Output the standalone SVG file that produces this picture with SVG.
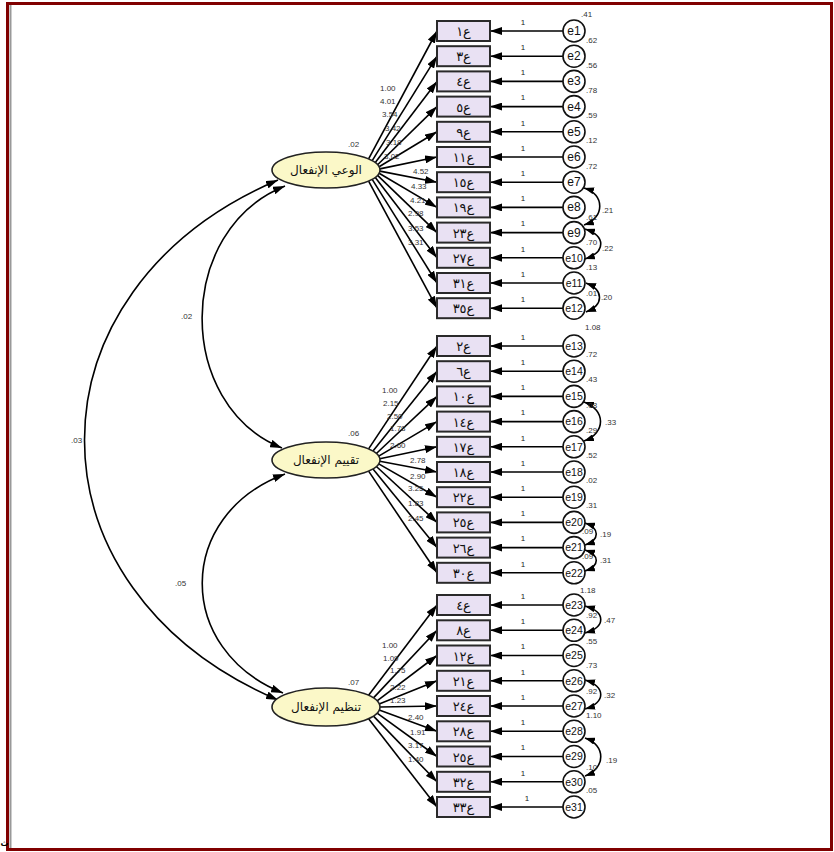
<svg xmlns="http://www.w3.org/2000/svg" width="834" height="852" viewBox="0 0 834 852">
<style>
.box rect{fill:#e9e1f3;stroke:#2a2a2a;stroke-width:2}
.btxt{font-family:"DejaVu Sans",sans-serif;font-size:13px;text-anchor:middle;fill:#111}
.err circle{fill:#fff;stroke:#111;stroke-width:1.6}
.etxt{font-family:"Liberation Sans",Arial,sans-serif;font-size:12px;text-anchor:middle;fill:#111}
.e2d{font-size:10.5px}
.lv ellipse{fill:#fbf8c8;stroke:#222;stroke-width:1.6}
.ltxt{font-family:"DejaVu Sans",sans-serif;font-size:12px;text-anchor:middle;fill:#111}
.num{font-family:"Liberation Sans",Arial,sans-serif;font-size:8px;fill:#333}
.conn line,.conn path{stroke:#000;stroke-width:1.6;fill:none}
.one{font-family:"Liberation Sans",Arial,sans-serif;font-size:8px;fill:#222;text-anchor:middle}
</style>
<defs>
<marker id="ah" viewBox="0 0 12 8" refX="12" refY="4" markerWidth="12" markerHeight="8" markerUnits="userSpaceOnUse" orient="auto-start-reverse"><path d="M0,0 L12,4 L0,8 z" fill="#000"/></marker>
<marker id="ah2" viewBox="0 0 10 7" refX="10" refY="3.5" markerWidth="10" markerHeight="7" markerUnits="userSpaceOnUse" orient="auto-start-reverse"><path d="M0,0 L10,3.5 L0,7 z" fill="#000"/></marker>
</defs>
<rect x="0" y="0" width="834" height="852" fill="#fff"/>
<rect x="7.5" y="3.5" width="824" height="846" fill="none" stroke="#800000" stroke-width="3"/>
<line x1="10.5" y1="5" x2="10.5" y2="848" stroke="#999" stroke-width="2"/>
<text x="0.5" y="846" font-family="DejaVu Sans,sans-serif" font-size="8" font-weight="bold">ث</text>

<g id="connectors" class="conn">
<path d="M278,180 C20,290 20,590 278,700" marker-start="url(#ah)" marker-end="url(#ah)"/>
<path d="M285,186 C175,230 175,405 282,448" marker-start="url(#ah)" marker-end="url(#ah)"/>
<path d="M285,474 C175,515 175,650 283,693" marker-start="url(#ah)" marker-end="url(#ah)"/>
<line x1="368.6" y1="158.9" x2="437" y2="31" marker-end="url(#ah)"/>
<line x1="372.2" y1="160.7" x2="437" y2="56.2" marker-end="url(#ah)"/>
<line x1="375.3" y1="162.6" x2="437" y2="81.4" marker-end="url(#ah)"/>
<line x1="377.6" y1="164.7" x2="437" y2="106.6" marker-end="url(#ah)"/>
<line x1="379.1" y1="166.8" x2="437" y2="131.8" marker-end="url(#ah)"/>
<line x1="379.9" y1="168.9" x2="437" y2="157" marker-end="url(#ah)"/>
<line x1="379.9" y1="171.1" x2="437" y2="182.2" marker-end="url(#ah)"/>
<line x1="379.1" y1="173.2" x2="437" y2="207.4" marker-end="url(#ah)"/>
<line x1="377.6" y1="175.3" x2="437" y2="232.6" marker-end="url(#ah)"/>
<line x1="375.3" y1="177.4" x2="437" y2="257.8" marker-end="url(#ah)"/>
<line x1="372.2" y1="179.3" x2="437" y2="283" marker-end="url(#ah)"/>
<line x1="368.6" y1="181.1" x2="437" y2="308.2" marker-end="url(#ah)"/>
<line x1="368.6" y1="448.9" x2="437" y2="346" marker-end="url(#ah)"/>
<line x1="373" y1="451.1" x2="437" y2="371.2" marker-end="url(#ah)"/>
<line x1="376.4" y1="453.5" x2="437" y2="396.4" marker-end="url(#ah)"/>
<line x1="378.7" y1="456.1" x2="437" y2="421.6" marker-end="url(#ah)"/>
<line x1="379.8" y1="458.7" x2="437" y2="446.8" marker-end="url(#ah)"/>
<line x1="379.8" y1="461.3" x2="437" y2="472" marker-end="url(#ah)"/>
<line x1="378.7" y1="463.9" x2="437" y2="497.2" marker-end="url(#ah)"/>
<line x1="376.4" y1="466.5" x2="437" y2="522.4" marker-end="url(#ah)"/>
<line x1="373" y1="468.9" x2="437" y2="547.6" marker-end="url(#ah)"/>
<line x1="368.6" y1="471.1" x2="437" y2="572.8" marker-end="url(#ah)"/>
<line x1="368.6" y1="695.3" x2="437" y2="605" marker-end="url(#ah)"/>
<line x1="373.5" y1="697.9" x2="437" y2="630.3" marker-end="url(#ah)"/>
<line x1="377.1" y1="700.8" x2="437" y2="655.5" marker-end="url(#ah)"/>
<line x1="379.2" y1="703.9" x2="437" y2="680.8" marker-end="url(#ah)"/>
<line x1="380" y1="707" x2="437" y2="706" marker-end="url(#ah)"/>
<line x1="379.2" y1="710.1" x2="437" y2="731.3" marker-end="url(#ah)"/>
<line x1="377.1" y1="713.2" x2="437" y2="756.5" marker-end="url(#ah)"/>
<line x1="373.5" y1="716.1" x2="437" y2="781.8" marker-end="url(#ah)"/>
<line x1="368.6" y1="718.7" x2="437" y2="807" marker-end="url(#ah)"/>
<line x1="563" y1="31" x2="490" y2="31" marker-end="url(#ah)"/>
<line x1="563" y1="56.2" x2="490" y2="56.2" marker-end="url(#ah)"/>
<line x1="563" y1="81.4" x2="490" y2="81.4" marker-end="url(#ah)"/>
<line x1="563" y1="106.6" x2="490" y2="106.6" marker-end="url(#ah)"/>
<line x1="563" y1="131.8" x2="490" y2="131.8" marker-end="url(#ah)"/>
<line x1="563" y1="157" x2="490" y2="157" marker-end="url(#ah)"/>
<line x1="563" y1="182.2" x2="490" y2="182.2" marker-end="url(#ah)"/>
<line x1="563" y1="207.4" x2="490" y2="207.4" marker-end="url(#ah)"/>
<line x1="563" y1="232.6" x2="490" y2="232.6" marker-end="url(#ah)"/>
<line x1="563" y1="257.8" x2="490" y2="257.8" marker-end="url(#ah)"/>
<line x1="563" y1="283" x2="490" y2="283" marker-end="url(#ah)"/>
<line x1="563" y1="308.2" x2="490" y2="308.2" marker-end="url(#ah)"/>
<line x1="563" y1="346" x2="490" y2="346" marker-end="url(#ah)"/>
<line x1="563" y1="371.2" x2="490" y2="371.2" marker-end="url(#ah)"/>
<line x1="563" y1="396.4" x2="490" y2="396.4" marker-end="url(#ah)"/>
<line x1="563" y1="421.6" x2="490" y2="421.6" marker-end="url(#ah)"/>
<line x1="563" y1="446.8" x2="490" y2="446.8" marker-end="url(#ah)"/>
<line x1="563" y1="472" x2="490" y2="472" marker-end="url(#ah)"/>
<line x1="563" y1="497.2" x2="490" y2="497.2" marker-end="url(#ah)"/>
<line x1="563" y1="522.4" x2="490" y2="522.4" marker-end="url(#ah)"/>
<line x1="563" y1="547.6" x2="490" y2="547.6" marker-end="url(#ah)"/>
<line x1="563" y1="572.8" x2="490" y2="572.8" marker-end="url(#ah)"/>
<line x1="563" y1="605" x2="490" y2="605" marker-end="url(#ah)"/>
<line x1="563" y1="630.3" x2="490" y2="630.3" marker-end="url(#ah)"/>
<line x1="563" y1="655.5" x2="490" y2="655.5" marker-end="url(#ah)"/>
<line x1="563" y1="680.8" x2="490" y2="680.8" marker-end="url(#ah)"/>
<line x1="563" y1="706" x2="490" y2="706" marker-end="url(#ah)"/>
<line x1="563" y1="731.3" x2="490" y2="731.3" marker-end="url(#ah)"/>
<line x1="563" y1="756.5" x2="490" y2="756.5" marker-end="url(#ah)"/>
<line x1="563" y1="781.8" x2="490" y2="781.8" marker-end="url(#ah)"/>
<line x1="563" y1="807" x2="490" y2="807" marker-end="url(#ah)"/>
<path d="M584,188 C605,194 605,218 584,225" marker-start="url(#ah2)" marker-end="url(#ah2)"/>
<path d="M585,229 C606,236 606,252 585,259" marker-start="url(#ah2)" marker-end="url(#ah2)"/>
<path d="M586,283 C604,290 604,305 586,312" marker-start="url(#ah2)" marker-end="url(#ah2)"/>
<path d="M584,402 C606,410 606,433 584,441" marker-start="url(#ah2)" marker-end="url(#ah2)"/>
<path d="M585,523 C600,528 600,540 585,545" marker-start="url(#ah2)" marker-end="url(#ah2)"/>
<path d="M585,550 C600,555 600,566 585,571" marker-start="url(#ah2)" marker-end="url(#ah2)"/>
<path d="M585,606 C606,612 606,627 585,633" marker-start="url(#ah2)" marker-end="url(#ah2)"/>
<path d="M585,680 C606,686 606,703 585,709" marker-start="url(#ah2)" marker-end="url(#ah2)"/>
<path d="M585,738 C606,745 606,768 585,776" marker-start="url(#ah2)" marker-end="url(#ah2)"/>
</g>

<g id="labels">
<text class="num" x="71" y="443">.03</text>
<text class="num" x="181" y="319">.02</text>
<text class="num" x="175" y="586">.05</text>
<text class="num" x="348" y="147">.02</text>
<text class="num" x="348" y="436">.06</text>
<text class="num" x="348" y="685">.07</text>
<text class="num" x="380" y="91">1.00</text>
<text class="num" x="380" y="104">4.01</text>
<text class="num" x="382" y="117">3.54</text>
<text class="num" x="385" y="131">3.42</text>
<text class="num" x="386" y="145">3.18</text>
<text class="num" x="384" y="159">3.02</text>
<text class="num" x="413" y="174">4.52</text>
<text class="num" x="411" y="189">4.33</text>
<text class="num" x="410" y="203">4.21</text>
<text class="num" x="408" y="216">2.98</text>
<text class="num" x="408" y="231">3.53</text>
<text class="num" x="408" y="245">3.31</text>
<text class="num" x="382" y="393">1.00</text>
<text class="num" x="383" y="406">2.15</text>
<text class="num" x="387" y="419">2.50</text>
<text class="num" x="390" y="431">1.78</text>
<text class="num" x="390" y="448">2.60</text>
<text class="num" x="410" y="463">2.78</text>
<text class="num" x="410" y="479">2.90</text>
<text class="num" x="408" y="491">3.25</text>
<text class="num" x="408" y="506">1.83</text>
<text class="num" x="408" y="521">2.45</text>
<text class="num" x="382" y="648">1.00</text>
<text class="num" x="383" y="661">1.09</text>
<text class="num" x="390" y="673">1.75</text>
<text class="num" x="390" y="690">2.22</text>
<text class="num" x="390" y="703">1.23</text>
<text class="num" x="408" y="720">2.40</text>
<text class="num" x="410" y="735">1.91</text>
<text class="num" x="408" y="748">3.17</text>
<text class="num" x="408" y="762">1.40</text>
<text class="num" x="602" y="213">.21</text>
<text class="num" x="602" y="251">.22</text>
<text class="num" x="601" y="300">.20</text>
<text class="num" x="605" y="425">.33</text>
<text class="num" x="600" y="537">.19</text>
<text class="num" x="600" y="563">.31</text>
<text class="num" x="604" y="623">.47</text>
<text class="num" x="604" y="698">.32</text>
<text class="num" x="606" y="763">.19</text>
<text class="num" x="581" y="17">.41</text>
<text class="num" x="586" y="43">.62</text>
<text class="num" x="586" y="68">.56</text>
<text class="num" x="586" y="93">.78</text>
<text class="num" x="586" y="118">.59</text>
<text class="num" x="586" y="143">.12</text>
<text class="num" x="586" y="169">.72</text>
<text class="num" x="586" y="220">.61</text>
<text class="num" x="586" y="245">.70</text>
<text class="num" x="586" y="270">.13</text>
<text class="num" x="586" y="296">.01</text>
<text class="num" x="585" y="330">1.08</text>
<text class="num" x="586" y="357">.72</text>
<text class="num" x="586" y="382">.43</text>
<text class="num" x="586" y="408">.08</text>
<text class="num" x="586" y="433">.29</text>
<text class="num" x="586" y="458">.52</text>
<text class="num" x="586" y="483">.02</text>
<text class="num" x="586" y="508">.31</text>
<text class="num" x="582" y="534">.09</text>
<text class="num" x="582" y="559">.09</text>
<text class="num" x="580" y="593">1.18</text>
<text class="num" x="586" y="618">.92</text>
<text class="num" x="586" y="644">.55</text>
<text class="num" x="586" y="668">.73</text>
<text class="num" x="586" y="694">.92</text>
<text class="num" x="586" y="718">1.10</text>
<text class="num" x="586" y="770">.10</text>
<text class="num" x="586" y="793">.05</text>
<text class="one" x="523" y="25">1</text>
<text class="one" x="523" y="50">1</text>
<text class="one" x="523" y="75">1</text>
<text class="one" x="523" y="100">1</text>
<text class="one" x="523" y="126">1</text>
<text class="one" x="523" y="151">1</text>
<text class="one" x="523" y="176">1</text>
<text class="one" x="523" y="201">1</text>
<text class="one" x="523" y="226">1</text>
<text class="one" x="523" y="252">1</text>
<text class="one" x="523" y="277">1</text>
<text class="one" x="523" y="302">1</text>
<text class="one" x="523" y="340">1</text>
<text class="one" x="523" y="365">1</text>
<text class="one" x="523" y="390">1</text>
<text class="one" x="523" y="415">1</text>
<text class="one" x="523" y="441">1</text>
<text class="one" x="523" y="466">1</text>
<text class="one" x="523" y="491">1</text>
<text class="one" x="523" y="516">1</text>
<text class="one" x="523" y="541">1</text>
<text class="one" x="523" y="567">1</text>
<text class="one" x="523" y="599">1</text>
<text class="one" x="523" y="624">1</text>
<text class="one" x="523" y="649">1</text>
<text class="one" x="523" y="675">1</text>
<text class="one" x="523" y="700">1</text>
<text class="one" x="523" y="725">1</text>
<text class="one" x="523" y="750">1</text>
<text class="one" x="523" y="776">1</text>
<text class="one" x="527" y="801">1</text>
</g>

<g id="f1" class="lv"><ellipse cx="326" cy="170" rx="54" ry="18"/><text class="ltxt" x="326" y="174">الوعي الإنفعال</text></g>
<g id="f2" class="lv"><ellipse cx="326" cy="460" rx="54" ry="18"/><text class="ltxt" x="326" y="464">تقييم الإنفعال</text></g>
<g id="f3" class="lv"><ellipse cx="326" cy="707" rx="54" ry="19"/><text class="ltxt" x="326" y="711">تنظيم الإنفعال</text></g>

<g id="b1" class="box"><rect x="437" y="21" width="53" height="20"/><text class="btxt" x="463.5" y="36">ع١</text></g>
<g id="b3" class="box"><rect x="437" y="46.2" width="53" height="20"/><text class="btxt" x="463.5" y="61.2">ع٣</text></g>
<g id="b4" class="box"><rect x="437" y="71.4" width="53" height="20"/><text class="btxt" x="463.5" y="86.4">ع٤</text></g>
<g id="b5" class="box"><rect x="437" y="96.6" width="53" height="20"/><text class="btxt" x="463.5" y="111.6">ع٥</text></g>
<g id="b9" class="box"><rect x="437" y="121.8" width="53" height="20"/><text class="btxt" x="463.5" y="136.8">ع٩</text></g>
<g id="b11" class="box"><rect x="437" y="147" width="53" height="20"/><text class="btxt" x="463.5" y="162">ع١١</text></g>
<g id="b15" class="box"><rect x="437" y="172.2" width="53" height="20"/><text class="btxt" x="463.5" y="187.2">ع١٥</text></g>
<g id="b19" class="box"><rect x="437" y="197.4" width="53" height="20"/><text class="btxt" x="463.5" y="212.4">ع١٩</text></g>
<g id="b23" class="box"><rect x="437" y="222.6" width="53" height="20"/><text class="btxt" x="463.5" y="237.6">ع٢٣</text></g>
<g id="b27" class="box"><rect x="437" y="247.8" width="53" height="20"/><text class="btxt" x="463.5" y="262.8">ع٢٧</text></g>
<g id="b31" class="box"><rect x="437" y="273" width="53" height="20"/><text class="btxt" x="463.5" y="288">ع٣١</text></g>
<g id="b35" class="box"><rect x="437" y="298.2" width="53" height="20"/><text class="btxt" x="463.5" y="313.2">ع٣٥</text></g>

<g id="b2" class="box"><rect x="437" y="336" width="53" height="20"/><text class="btxt" x="463.5" y="351">ع٢</text></g>
<g id="b6" class="box"><rect x="437" y="361.2" width="53" height="20"/><text class="btxt" x="463.5" y="376.2">ع٦</text></g>
<g id="b10" class="box"><rect x="437" y="386.4" width="53" height="20"/><text class="btxt" x="463.5" y="401.4">ع١٠</text></g>
<g id="b14" class="box"><rect x="437" y="411.6" width="53" height="20"/><text class="btxt" x="463.5" y="426.6">ع١٤</text></g>
<g id="b17" class="box"><rect x="437" y="436.8" width="53" height="20"/><text class="btxt" x="463.5" y="451.8">ع١٧</text></g>
<g id="b18" class="box"><rect x="437" y="462" width="53" height="20"/><text class="btxt" x="463.5" y="477">ع١٨</text></g>
<g id="b22" class="box"><rect x="437" y="487.2" width="53" height="20"/><text class="btxt" x="463.5" y="502.2">ع٢٢</text></g>
<g id="b25" class="box"><rect x="437" y="512.4" width="53" height="20"/><text class="btxt" x="463.5" y="527.4">ع٢٥</text></g>
<g id="b26" class="box"><rect x="437" y="537.6" width="53" height="20"/><text class="btxt" x="463.5" y="552.6">ع٢٦</text></g>
<g id="b30" class="box"><rect x="437" y="562.8" width="53" height="20"/><text class="btxt" x="463.5" y="577.8">ع٣٠</text></g>

<g id="c4" class="box"><rect x="437" y="595" width="53" height="20"/><text class="btxt" x="463.5" y="610">ع٤</text></g>
<g id="c8" class="box"><rect x="437" y="620.3" width="53" height="20"/><text class="btxt" x="463.5" y="635.3">ع٨</text></g>
<g id="c12" class="box"><rect x="437" y="645.5" width="53" height="20"/><text class="btxt" x="463.5" y="660.5">ع١٢</text></g>
<g id="c21" class="box"><rect x="437" y="670.8" width="53" height="20"/><text class="btxt" x="463.5" y="685.8">ع٢١</text></g>
<g id="c24" class="box"><rect x="437" y="696" width="53" height="20"/><text class="btxt" x="463.5" y="711">ع٢٤</text></g>
<g id="c28" class="box"><rect x="437" y="721.3" width="53" height="20"/><text class="btxt" x="463.5" y="736.3">ع٢٨</text></g>
<g id="c25" class="box"><rect x="437" y="746.5" width="53" height="20"/><text class="btxt" x="463.5" y="761.5">ع٢٥</text></g>
<g id="c32" class="box"><rect x="437" y="771.8" width="53" height="20"/><text class="btxt" x="463.5" y="786.8">ع٣٢</text></g>
<g id="c33" class="box"><rect x="437" y="797" width="53" height="20"/><text class="btxt" x="463.5" y="812">ع٣٣</text></g>

<g id="e1" class="err"><circle cx="574" cy="31" r="11"/><text class="etxt" x="574" y="35">e1</text></g>
<g id="e2" class="err"><circle cx="574" cy="56.2" r="11"/><text class="etxt" x="574" y="60.2">e2</text></g>
<g id="e3" class="err"><circle cx="574" cy="81.4" r="11"/><text class="etxt" x="574" y="85.4">e3</text></g>
<g id="e4" class="err"><circle cx="574" cy="106.6" r="11"/><text class="etxt" x="574" y="110.6">e4</text></g>
<g id="e5" class="err"><circle cx="574" cy="131.8" r="11"/><text class="etxt" x="574" y="135.8">e5</text></g>
<g id="e6" class="err"><circle cx="574" cy="157" r="11"/><text class="etxt" x="574" y="161">e6</text></g>
<g id="e7" class="err"><circle cx="574" cy="182.2" r="11"/><text class="etxt" x="574" y="186.2">e7</text></g>
<g id="e8" class="err"><circle cx="574" cy="207.4" r="11"/><text class="etxt" x="574" y="211.4">e8</text></g>
<g id="e9" class="err"><circle cx="574" cy="232.6" r="11"/><text class="etxt" x="574" y="236.6">e9</text></g>
<g id="e10" class="err"><circle cx="574" cy="257.8" r="11"/><text class="etxt e2d" x="574" y="261.6">e10</text></g>
<g id="e11" class="err"><circle cx="574" cy="283" r="11"/><text class="etxt e2d" x="574" y="286.8">e11</text></g>
<g id="e12" class="err"><circle cx="574" cy="308.2" r="11"/><text class="etxt e2d" x="574" y="312">e12</text></g>
<g id="e13" class="err"><circle cx="574" cy="346" r="11"/><text class="etxt e2d" x="574" y="349.8">e13</text></g>
<g id="e14" class="err"><circle cx="574" cy="371.2" r="11"/><text class="etxt e2d" x="574" y="375">e14</text></g>
<g id="e15" class="err"><circle cx="574" cy="396.4" r="11"/><text class="etxt e2d" x="574" y="400.2">e15</text></g>
<g id="e16" class="err"><circle cx="574" cy="421.6" r="11"/><text class="etxt e2d" x="574" y="425.4">e16</text></g>
<g id="e17" class="err"><circle cx="574" cy="446.8" r="11"/><text class="etxt e2d" x="574" y="450.6">e17</text></g>
<g id="e18" class="err"><circle cx="574" cy="472" r="11"/><text class="etxt e2d" x="574" y="475.8">e18</text></g>
<g id="e19" class="err"><circle cx="574" cy="497.2" r="11"/><text class="etxt e2d" x="574" y="501">e19</text></g>
<g id="e20" class="err"><circle cx="574" cy="522.4" r="11"/><text class="etxt e2d" x="574" y="526.2">e20</text></g>
<g id="e21" class="err"><circle cx="574" cy="547.6" r="11"/><text class="etxt e2d" x="574" y="551.4">e21</text></g>
<g id="e22" class="err"><circle cx="574" cy="572.8" r="11"/><text class="etxt e2d" x="574" y="576.6">e22</text></g>
<g id="e23" class="err"><circle cx="574" cy="605" r="11"/><text class="etxt e2d" x="574" y="608.8">e23</text></g>
<g id="e24" class="err"><circle cx="574" cy="630.3" r="11"/><text class="etxt e2d" x="574" y="634.1">e24</text></g>
<g id="e25" class="err"><circle cx="574" cy="655.5" r="11"/><text class="etxt e2d" x="574" y="659.3">e25</text></g>
<g id="e26" class="err"><circle cx="574" cy="680.8" r="11"/><text class="etxt e2d" x="574" y="684.6">e26</text></g>
<g id="e27" class="err"><circle cx="574" cy="706" r="11"/><text class="etxt e2d" x="574" y="709.8">e27</text></g>
<g id="e28" class="err"><circle cx="574" cy="731.3" r="11"/><text class="etxt e2d" x="574" y="735.1">e28</text></g>
<g id="e29" class="err"><circle cx="574" cy="756.5" r="11"/><text class="etxt e2d" x="574" y="760.3">e29</text></g>
<g id="e30" class="err"><circle cx="574" cy="781.8" r="11"/><text class="etxt e2d" x="574" y="785.6">e30</text></g>
<g id="e31" class="err"><circle cx="574" cy="807" r="11"/><text class="etxt e2d" x="574" y="810.8">e31</text></g>
</svg>
